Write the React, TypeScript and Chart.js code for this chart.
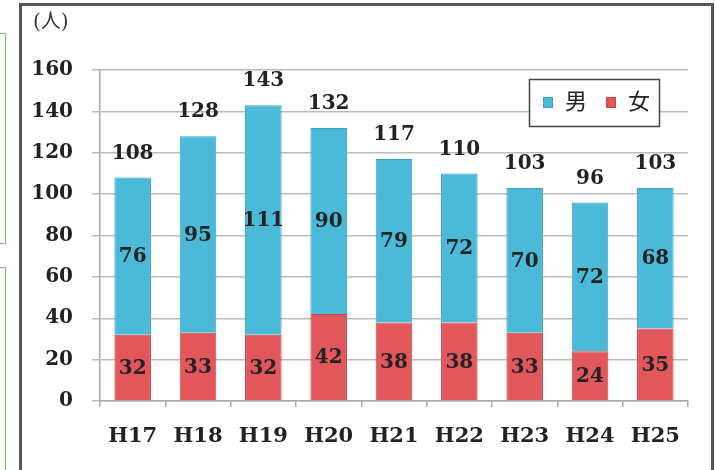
import React, { useEffect, useRef } from "react";
import { Chart, registerables } from "chart.js";

Chart.register(...registerables);

const categories = ["H17", "H18", "H19", "H20", "H21", "H22", "H23", "H24", "H25"];
const maleValues = [76, 95, 111, 90, 79, 72, 70, 72, 68];
const femaleValues = [32, 33, 32, 42, 38, 38, 33, 24, 35];
const seriesNames = ["男", "女"];
const unitLabel = "(人)";
const yMin = 0;
const yMax = 160;
const yStep = 20;

const blueFill = "#4bb9d8";
const blueEdge = "#3a9fc0";
const redFill = "#e2575c";
const redEdge = "#c44448";

const numFont = "'DejaVu Serif', serif";
const cjkFont = "'DejaVu Serif', 'Noto Sans CJK JP', serif";

const labelPlugin = {
  id: "valueLabels",
  afterDatasetsDraw(chart: any) {
    const ctx = chart.ctx;
    ctx.save();
    ctx.fillStyle = "#222";
    ctx.textAlign = "center";
    ctx.textBaseline = "middle";
    ctx.font = `bold 20px ${numFont}`;
    chart.data.datasets.forEach((ds: any, di: number) => {
      const meta = chart.getDatasetMeta(di);
      meta.data.forEach((bar: any, i: number) => {
        const p = bar.getProps(["x", "y", "base"], true);
        ctx.fillText(String(ds.data[i]), p.x, (p.y + p.base) / 2 + 1);
      });
    });
    const topMeta = chart.getDatasetMeta(chart.data.datasets.length - 1);
    topMeta.data.forEach((bar: any, i: number) => {
      const p = bar.getProps(["x", "y"], true);
      const total = chart.data.datasets.reduce((s: number, ds: any) => s + ds.data[i], 0);
      ctx.fillText(String(total), p.x, p.y - 24);
    });

    // legend box inside chart area
    const lx = 529.5, ly = 79.5, lw = 130, lh = 47;
    ctx.fillStyle = "#fff";
    ctx.fillRect(lx, ly, lw, lh);
    ctx.strokeStyle = "#444";
    ctx.lineWidth = 1.5;
    ctx.strokeRect(lx, ly, lw, lh);
    const items = [
      { name: seriesNames[0], fill: blueFill, edge: blueEdge, x: 543 },
      { name: seriesNames[1], fill: redFill, edge: redEdge, x: 606 },
    ];
    ctx.font = `22px ${cjkFont}`;
    ctx.textAlign = "left";
    items.forEach((it) => {
      ctx.fillStyle = it.fill;
      ctx.fillRect(it.x, 97, 10, 11);
      ctx.strokeStyle = it.edge;
      ctx.lineWidth = 1;
      ctx.strokeRect(it.x + 0.5, 97.5, 9, 10);
      ctx.fillStyle = "#222";
      ctx.fillText(it.name, it.x + 22, 103);
    });

    // unit label
    ctx.font = `20px ${cjkFont}`;
    ctx.fillStyle = "#333";
    ctx.fillText(unitLabel, 33, 23);
    ctx.restore();
  },
};

export default function App() {
  const ref = useRef<HTMLCanvasElement>(null);
  useEffect(() => {
    if (!ref.current) return;
    const chart = new Chart(ref.current, {
      type: "bar",
      data: {
        labels: categories,
        datasets: [
          {
            label: seriesNames[1],
            data: femaleValues,
            backgroundColor: redFill,
            borderColor: redEdge,
            borderWidth: 1,
            categoryPercentage: 1,
            barPercentage: 0.56,
          },
          {
            label: seriesNames[0],
            data: maleValues,
            backgroundColor: blueFill,
            borderColor: blueEdge,
            borderWidth: 1,
            categoryPercentage: 1,
            barPercentage: 0.56,
          },
        ],
      },
      options: {
        responsive: false,
        animation: false,
        layout: { padding: { top: 70, right: 28, left: 0, bottom: 0 } },
        plugins: { legend: { display: false }, tooltip: { enabled: false } },
        scales: {
          x: {
            stacked: true,
            grid: {
              display: true,
              drawOnChartArea: false,
              drawTicks: true,
              tickLength: 6,
              color: "#aaa",
              lineWidth: 1.5,
              offset: true,
            },
            border: { display: true, color: "#aaa", width: 1.5 },
            ticks: { font: { family: numFont, size: 21, weight: "bold" }, color: "#222", padding: 17 },
            afterFit: (s: any) => {
              s.height = 69;
            },
          },
          y: {
            stacked: true,
            min: yMin,
            max: yMax,
            ticks: { stepSize: yStep, font: { family: numFont, size: 20, weight: "bold" }, color: "#222", padding: 19 },
            grid: { color: "#bbb", lineWidth: 1.5, tickLength: 8 },
            border: { display: true, color: "#aaa", width: 1.5 },
            afterFit: (s: any) => {
              s.width = 100;
            },
          },
        },
      },
      plugins: [labelPlugin],
    });
    return () => chart.destroy();
  }, []);

  return (
    <div style={{ position: "fixed", left: 0, top: 0, width: 716, height: 470, overflow: "hidden", background: "#fff" }}>
      <div style={{ position: "absolute", left: -10, top: 33, width: 14, height: 209, border: "1.5px solid #6cc76c" }} />
      <div style={{ position: "absolute", left: -10, top: 267, width: 14, height: 300, border: "1.5px solid #6cc76c" }} />
      <div style={{ position: "absolute", left: 19, top: 3, width: 689, height: 520, border: "3px solid #555" }} />
      <canvas ref={ref} width={716} height={470} style={{ position: "absolute", left: 0, top: 0 }} />
    </div>
  );
}
